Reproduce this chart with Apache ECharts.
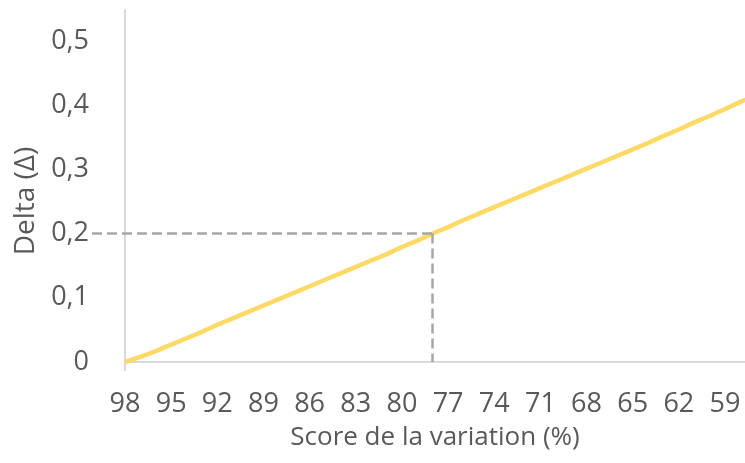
<!DOCTYPE html>
<html>
<head>
<meta charset="utf-8">
<script src="https://cdn.jsdelivr.net/npm/echarts@6/dist/echarts.min.js"></script>
<style>
  html, body { margin: 0; padding: 0; background: #fff; }
  #chart { width: 745px; height: 463px; }
</style>
</head>
<body>
<div id="chart"></div>
<script>
// Score de la variation (%), from high to low
const scores = [98, 97, 96, 95, 94, 93, 92, 91, 90, 89, 88, 87, 86, 85,
  84, 83, 82, 81, 80, 79, 78, 77, 76, 75, 74, 73, 72, 71, 70, 69,
  68, 67, 66, 65, 64, 63, 62, 61, 60, 59, 58, 57];
// Delta for each score
const deltas = [0, 0.008, 0.017, 0.027, 0.037, 0.047, 0.058, 0.068, 0.078, 0.088,
  0.098, 0.108, 0.118, 0.128, 0.138, 0.148, 0.158, 0.168, 0.179, 0.189, 0.200,
  0.210, 0.221, 0.231, 0.241, 0.251, 0.261, 0.271, 0.281, 0.291, 0.301, 0.311,
  0.321, 0.331, 0.341, 0.352, 0.362, 0.373, 0.383, 0.394, 0.405, 0.415];
// Labelled scores on the horizontal axis
const scoreTicks = [98, 95, 92, 89, 86, 83, 80, 77, 74, 71, 68, 65, 62, 59];
// Reference point
const refScore = 78;
const refDelta = 0.2;

const textColor = '#595959';
const fontFamily = '"Open Sans", "Noto Sans", sans-serif';

const chart = echarts.init(document.getElementById('chart'), null, { renderer: 'canvas' });

const points = scores.map((s, i) => [s, deltas[i]]);

const option = {
  animation: false,
  grid: { left: 125, right: 0, top: 10, bottom: 101 },
  xAxis: {
    type: 'value',
    inverse: true,
    min: 57.7,
    max: 98,
    name: 'Score de la variation (%)',
    nameLocation: 'middle',
    nameGap: 63,
    nameTextStyle: { color: textColor, fontSize: 26, fontFamily: fontFamily },
    axisLine: { show: true, lineStyle: { color: '#D9D9D9', width: 2 } },
    axisTick: { show: true, length: 9, customValues: [scores[0]], lineStyle: { color: '#D9D9D9', width: 2 } },
    axisLabel: {
      customValues: scoreTicks,
      color: textColor, fontSize: 27, fontFamily: fontFamily, margin: 29
    },
    splitLine: { show: false }
  },
  yAxis: {
    type: 'value',
    min: 0,
    max: 0.548,
    interval: 0.1,
    name: 'Delta (Δ)',
    nameLocation: 'middle',
    nameRotate: 90,
    nameGap: 84,
    nameTextStyle: { color: textColor, fontSize: 28, fontFamily: fontFamily, padding: [0, 30, 0, 0] },
    axisLine: { show: true, lineStyle: { color: '#D9D9D9', width: 2 } },
    axisTick: { show: false },
    splitLine: { show: false },
    axisLabel: {
      color: textColor, fontSize: 27, fontFamily: fontFamily, margin: 36,
      showMaxLabel: false,
      formatter: (v) => (v === 0 ? '0' : v.toFixed(1).replace('.', ','))
    }
  },
  series: [{
    type: 'line',
    data: points,
    showSymbol: false,
    smooth: false,
    lineStyle: { color: '#FFD966', width: 4.5 },
    z: 3
  }]
};
chart.setOption(option);

// Dashed guides from the Delta axis to the reference point and down to the score axis
const pRef = chart.convertToPixel({ seriesIndex: 0 }, [refScore, refDelta]);
const pBase = chart.convertToPixel({ seriesIndex: 0 }, [refScore, 0]);
chart.setOption({
  series: [{
    markLine: {
      silent: true,
      symbol: ['none', 'none'],
      label: { show: false },
      lineStyle: { color: '#A6A6A6', width: 2.5, type: [10, 5] },
      data: [
        [{ x: 92, y: pRef[1] }, { x: pRef[0], y: pRef[1] }],
        [{ x: pRef[0], y: pRef[1] }, { x: pRef[0], y: pBase[1] }]
      ]
    }
  }]
});
</script>
</body>
</html>
